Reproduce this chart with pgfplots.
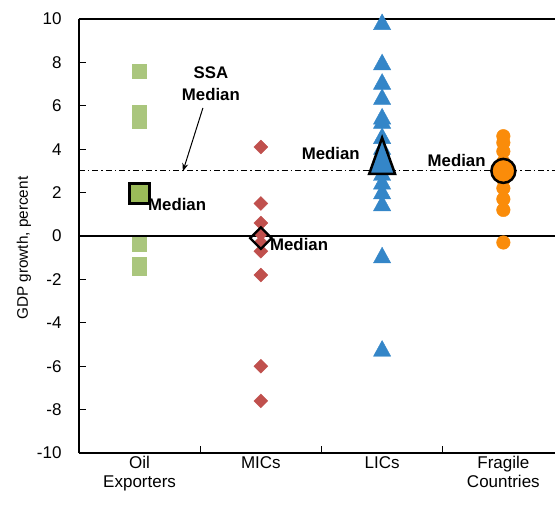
\documentclass[border=0pt]{standalone}
\usepackage{pgfplots}
\pgfplotsset{compat=1.18}
\usepackage{fontspec}
\setmainfont{Liberation Sans}
\usetikzlibrary{arrows.meta}
\definecolor{cgreen}{RGB}{155,187,89}
\definecolor{cgreenl}{RGB}{170,198,125}
\definecolor{cred}{RGB}{192,80,77}
\definecolor{cblue}{RGB}{52,134,200}
\definecolor{corange}{RGB}{250,140,10}
\newcommand\tf{\fontsize{17bp}{19bp}\selectfont}
\newcommand\mf{\fontsize{16.8bp}{22bp}\selectfont\bfseries}
\begin{document}
\begin{tikzpicture}
\begin{axis}[
  scale only axis, width=476bp, height=434bp,
  xmin=0.5, xmax=4.426, ymin=-10, ymax=10,
  axis x line*=box, axis y line*=left,
  axis line style={line width=1.3bp, black},
  ytick={-10,-8,...,10}, ytick pos=left,
  xtick={1.5,2.5,3.5}, xticklabels={}, xtick pos=left,
  extra x ticks={1,2,3,4},
  extra x tick labels={{Oil\\Exporters},MICs,LICs,{Fragile\\Countries}},
  extra x tick style={tick style={draw=none}},
  xticklabel style={align=center, font=\tf},
  yticklabel style={font=\tf, xshift=-14bp},
  tick align=inside, major tick length=7bp,
  tick style={line width=1bp, black},
  /pgf/number format/assume math mode=true,
  ylabel={GDP growth, percent},
  ylabel style={font=\fontsize{15.3bp}{18bp}\selectfont, at={(axis description cs:-0.1155,0.472)}, anchor=center, rotate=0},
  clip=false,
]
% Oil exporters
\addplot[only marks, color=cgreenl, mark=square*, mark size=7bp, mark options={fill=cgreenl, draw=cgreenl}]
  coordinates {(1,7.6)(1,5.7)(1,5.3)(1,2.0)(1,-0.4)(1,-1.3)(1,-1.5)};
% MICs
\addplot[only marks, color=cred, mark=square*, mark size=4.9bp, mark options={rotate=45, fill=cred, draw=cred}]
  coordinates {(2,4.1)(2,1.5)(2,0.6)(2,0.1)(2,-0.3)(2,-0.7)(2,-1.8)(2,-6.0)(2,-7.6)};
% LICs
\addplot[only marks, color=cblue, mark=triangle*, mark size=10.5bp, mark options={xscale=0.95, fill=cblue, draw=cblue}]
  coordinates {(3,9.75)(3,7.9)(3,7.0)(3,6.3)(3,5.4)(3,5.2)(3,4.5)(3,4.0)(3,3.6)(3,3.2)(3,2.8)(3,2.4)(3,1.95)(3,1.4)(3,-1.0)(3,-5.3)};
% Fragile
\addplot[only marks, color=corange, mark=*, mark size=6.8bp, mark options={fill=corange, draw=corange}]
  coordinates {(4,4.6)(4,4.3)(4,3.9)(4,3.4)(4,3.0)(4,2.6)(4,2.2)(4,1.7)(4,1.2)(4,-0.3)};
% Medians
\addplot[only marks, color=black, mark=square*, mark size=10bp, mark options={fill=cgreen, draw=black, line width=2.5bp}]
  coordinates {(1,1.95)};
\addplot[only marks, color=black, mark=square, mark size=7.6bp, mark options={rotate=45, draw=black, line width=2.2bp}]
  coordinates {(2,-0.1)};
\addplot[only marks, color=black, mark=triangle*, mark size=24bp, mark options={xscale=0.62, fill=cblue, draw=black, line width=2.5bp}]
  coordinates {(3,3.42)};
\addplot[only marks, color=black, mark=*, mark size=12bp, mark options={fill=corange, draw=black, line width=2.5bp}]
  coordinates {(4,3.0)};
% reference lines
\addplot[black, line width=1.2bp] coordinates {(0.5,0)(4.426,0)};
\addplot[black, line width=0.9bp, dash pattern=on 6bp off 3bp on 1.5bp off 3bp] coordinates {(0.5,3)(4.426,3)};
% labels
\node[font=\mf, anchor=west, inner sep=0pt] at (axis cs:1.069,1.47) {Median};
\node[font=\mf, anchor=west, inner sep=0pt] at (axis cs:2.075,-0.37) {Median};
\node[font=\mf, anchor=east, inner sep=0pt] at (axis cs:2.817,3.82) {Median};
\node[font=\mf, anchor=east, inner sep=0pt] at (axis cs:3.855,3.5) {Median};
\node[font=\mf, align=center, inner sep=0pt] at (axis cs:1.588,7.03) {SSA\\Median};
\draw[-{Stealth[length=8bp,width=6bp]}, line width=1bp] (axis cs:1.522,5.9) -- (axis cs:1.357,2.98);
\end{axis}
\pgfresetboundingbox
\path ([shift={(-79bp,-55bp)}]current axis.south west) rectangle ([shift={(0bp,19bp)}]current axis.north east);
\end{tikzpicture}
\end{document}
